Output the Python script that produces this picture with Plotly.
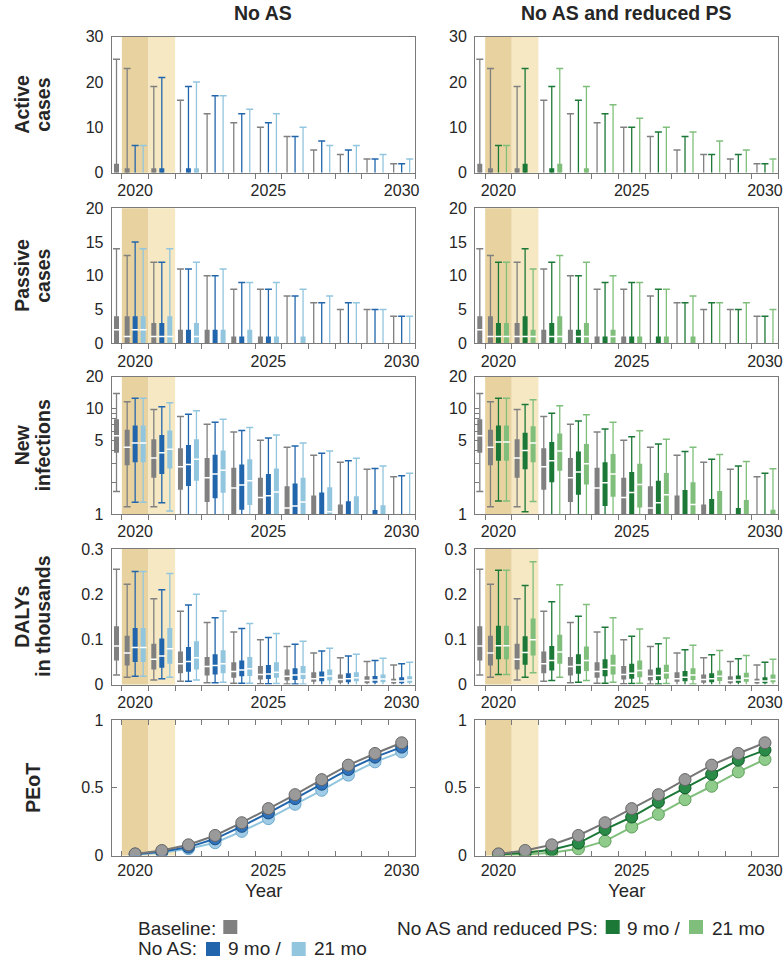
import plotly.graph_objects as go

# ---------------- data ----------------
YEARS = [2020, 2021, 2022, 2023, 2024, 2025, 2026, 2027, 2028, 2029, 2030]
BASE_YEARS = [2019] + YEARS

# Active cases (counts)
ACT_BASE = dict(lo=[0,0,0,0,0,0,0,0,0,0,0,0], q1=[0,0,0,0,0,0,0,0,0,0,0,0],
                med=[0,0,0,0,0,0,0,0,0,0,0,0], q3=[2,1,1,0,0,0,0,0,0,0,0,0],
                hi=[25,23,19,16,13,11,10,8,5,4,3,2])
ACT_NOAS9 = dict(lo=[0,0,0,0,0,0,0,0,0,0,0], q1=[0,0,0,0,0,0,0,0,0,0,0],
                 med=[0,0,0,0,0,0,0,0,0,0,0], q3=[0,1,1,0,0,0,0,0,0,0,0],
                 hi=[6,21,19,17,13,11,8,7,5,3,2])
ACT_NOAS21 = dict(lo=[0,0,0,0,0,0,0,0,0,0,0], q1=[0,0,0,0,0,0,0,0,0,0,0],
                  med=[0,0,0,0,0,0,0,0,0,0,0], q3=[0,0,1,0,0,0,0,0,0,0,0],
                  hi=[6,0,20,17,14,13,10,6,6,4,3])
ACT_RPS9 = dict(lo=[0,0,0,0,0,0,0,0,0,0,0], q1=[0,0,0,0,0,0,0,0,0,0,0],
                med=[0,0,0,0,0,0,0,0,0,0,0], q3=[0,2,1,0,0,0,0,0,0,0,0],
                hi=[6,23,19,16,13,10,9,8,4,4,2])
ACT_RPS21 = dict(lo=[0,0,0,0,0,0,0,0,0,0,0], q1=[0,0,0,0,0,0,0,0,0,0,0],
                 med=[0,0,0,0,0,0,0,0,0,0,0], q3=[0,0,2,1,0,0,0,0,0,0,0],
                 hi=[6,0,23,19,15,12,10,9,7,5,3])

# Passive cases (counts)
PAS_BASE = dict(lo=[0,0,0,0,0,0,0,0,0,0,0,0], q1=[0,0,0,0,0,0,0,0,0,0,0,0],
                med=[2,1,1,0,0,0,0,0,0,0,0,0], q3=[4,4,3,2,2,1,1,0,0,0,0,0],
                hi=[14,13,12,11,10,8,8,7,6,5,5,4])
PAS_NOAS9 = dict(lo=[0,0,0,0,0,0,0,0,0,0,0], q1=[0,0,0,0,0,0,0,0,0,0,0],
                 med=[2,1,0,0,0,0,0,0,0,0,0], q3=[4,3,2,2,1,1,0,0,0,0,0],
                 hi=[15,12,11,10,9,8,7,6,6,5,4])
PAS_NOAS21 = dict(lo=[0,0,0,0,0,0,0,0,0,0,0], q1=[0,0,0,0,0,0,0,0,0,0,0],
                  med=[2,1,1,0,0,0,0,0,0,0,0], q3=[4,4,3,2,2,1,1,0,0,0,0],
                  hi=[14,14,12,11,9,9,8,7,6,5,4])
PAS_RPS9 = dict(lo=[0,0,0,0,0,0,0,0,0,0,0], q1=[0,0,0,0,0,0,0,0,0,0,0],
                med=[1,1,1,1,0,0,0,0,0,0,0], q3=[3,4,3,2,1,1,1,0,0,0,0],
                hi=[12,14,12,10,9,9,8,6,6,5,4])
PAS_RPS21 = dict(lo=[0,0,0,0,0,0,0,0,0,0,0], q1=[0,0,0,0,0,0,0,0,0,0,0],
                 med=[1,1,1,1,1,0,0,0,0,0,0], q3=[3,2,4,3,2,1,1,1,0,0,0],
                 hi=[12,11,13,12,10,9,8,7,6,6,5])

# New infections (log axis; 1 = at or below axis floor)
NEW_BASE = dict(lo=[1.63,1.17,1.17,1,1,1,1,1,1,1,1,1],
                q1=[3.8,2.9,2.2,1.7,1.3,1,1,1,1,1,1,1],
                med=[5.5,4.3,3.4,2.8,2.2,1.76,1.43,1.14,1,1,1,1],
                q3=[7.9,6.3,5.1,4.2,3.4,2.75,2.2,1.83,1.5,1.23,1,1],
                hi=[13.9,11.6,9.8,8.4,7.1,6.0,5.0,4.3,3.6,3.1,2.65,2.26])
NEW_NOAS9 = dict(lo=[1.29,1.28,1,1,1,1,1,1,1,1,1],
                 q1=[3.1,2.4,1.84,1.41,1.1,1,1,1,1,1,1],
                 med=[4.7,3.8,2.95,2.4,1.88,1.49,1.19,1,1,1,1],
                 q3=[6.9,5.6,4.5,3.65,2.95,2.4,1.95,1.6,1.32,1.09,1],
                 hi=[12.5,10.4,8.8,7.4,6.2,5.25,4.4,3.76,3.2,2.7,2.3])
NEW_NOAS21 = dict(lo=[1.29,1.07,1,1,1,1,1,1,1,1,1],
                  q1=[3.1,2.7,2.07,1.59,1.22,1,1,1,1,1,1],
                  med=[4.7,4.1,3.3,2.6,2.07,1.62,1.3,1.05,1,1,1],
                  q3=[6.9,6.2,5.1,4.0,3.3,2.7,2.2,1.79,1.47,1.21,1],
                  hi=[12.5,11.3,9.5,7.9,6.6,5.6,4.7,3.95,3.37,2.85,2.43])
NEW_RPS9 = dict(lo=[1.33,1.05,1,1,1,1,1,1,1,1,1],
                q1=[3.2,2.65,2.0,1.52,1.19,1,1,1,1,1,1],
                med=[4.8,4.0,3.2,2.5,1.98,1.6,1.28,1,1,1,1],
                q3=[6.9,5.9,4.8,3.9,3.1,2.5,2.07,1.69,1.39,1.14,1],
                hi=[12.5,10.9,9.0,7.6,6.4,5.4,4.6,3.9,3.3,2.85,2.43])
NEW_RPS21 = dict(lo=[1.33,1.31,1,1,1,1,1,1,1,1,1],
                 q1=[3.2,3.1,2.57,1.9,1.46,1.15,1,1,1,1,1],
                 med=[4.8,4.7,3.95,3.0,2.4,1.9,1.52,1.23,1,1,1],
                 q3=[6.9,6.8,5.8,4.6,3.7,3.0,2.45,2.0,1.65,1.36,1.1],
                 hi=[12.5,12.1,10.6,8.7,7.4,6.15,5.1,4.3,3.67,3.15,2.69])

# DALYs in thousands
DALY_BASE = dict(lo=[0.021,0.016,0.010,0.007,0.004,0.003,0.0015,0.001,0,0,0,0],
                 q1=[0.053,0.042,0.033,0.025,0.020,0.015,0.011,0.009,0.006,0.004,0.003,0.002],
                 med=[0.085,0.070,0.056,0.046,0.040,0.029,0.022,0.018,0.013,0.011,0.009,0.007],
                 q3=[0.129,0.108,0.090,0.073,0.061,0.049,0.041,0.033,0.027,0.022,0.018,0.013],
                 hi=[0.255,0.222,0.190,0.162,0.137,0.116,0.099,0.084,0.070,0.059,0.051,0.043])
DALY_NOAS9 = dict(lo=[0.018,0.013,0.007,0.004,0.003,0.0015,0.001,0,0,0,0],
                  q1=[0.050,0.037,0.028,0.022,0.018,0.012,0.010,0.007,0.005,0.004,0.003],
                  med=[0.082,0.063,0.051,0.042,0.032,0.023,0.021,0.016,0.013,0.010,0.008],
                  q3=[0.125,0.102,0.083,0.067,0.053,0.043,0.036,0.029,0.025,0.019,0.016],
                  hi=[0.250,0.210,0.176,0.148,0.124,0.104,0.089,0.074,0.063,0.053,0.046])
DALY_NOAS21 = dict(lo=[0.018,0.016,0.010,0.005,0.003,0.002,0.001,0,0,0,0],
                   q1=[0.050,0.046,0.033,0.025,0.019,0.015,0.012,0.009,0.007,0.005,0.004],
                   med=[0.082,0.079,0.059,0.046,0.035,0.027,0.023,0.019,0.015,0.012,0.010],
                   q3=[0.125,0.125,0.096,0.076,0.061,0.049,0.041,0.033,0.027,0.022,0.018],
                   hi=[0.250,0.246,0.200,0.163,0.135,0.113,0.096,0.080,0.067,0.058,0.049])
DALY_RPS9 = dict(lo=[0.022,0.016,0.009,0.005,0.003,0.002,0.001,0,0,0,0],
                 q1=[0.056,0.044,0.031,0.024,0.018,0.013,0.010,0.007,0.005,0.004,0.003],
                 med=[0.086,0.071,0.053,0.043,0.034,0.025,0.020,0.016,0.013,0.010,0.008],
                 q3=[0.130,0.107,0.085,0.067,0.056,0.046,0.037,0.030,0.025,0.020,0.016],
                 hi=[0.253,0.219,0.183,0.151,0.127,0.107,0.090,0.077,0.066,0.057,0.049])
DALY_RPS21 = dict(lo=[0.022,0.026,0.016,0.009,0.005,0.003,0.002,0.001,0,0,0],
                  q1=[0.056,0.064,0.046,0.030,0.022,0.016,0.013,0.010,0.008,0.006,0.005],
                  med=[0.086,0.099,0.072,0.053,0.042,0.031,0.026,0.021,0.018,0.014,0.011],
                  q3=[0.130,0.146,0.110,0.084,0.066,0.053,0.044,0.036,0.031,0.026,0.022],
                  hi=[0.253,0.272,0.221,0.177,0.148,0.123,0.103,0.087,0.075,0.064,0.056])

# PEoT
PEOT_BASE = [0.012,0.037,0.079,0.148,0.242,0.346,0.449,0.560,0.667,0.753,0.832]
PEOT_NOAS9 = [0.010,0.027,0.062,0.123,0.215,0.314,0.420,0.526,0.635,0.726,0.800]
PEOT_NOAS21 = [0.008,0.020,0.050,0.094,0.178,0.272,0.378,0.481,0.593,0.691,0.765]
PEOT_RPS9 = [0.008,0.020,0.042,0.091,0.193,0.284,0.395,0.499,0.600,0.704,0.778]
PEOT_RPS21 = [0.005,0.008,0.020,0.049,0.106,0.210,0.304,0.412,0.511,0.617,0.709]

ROW_LABELS = [["Active", "cases"], ["Passive", "cases"], ["New", "infections"],
              ["DALYs", "in thousands"], ["PEoT"]]
COL_TITLES = ["No AS", "No AS and reduced PS"]

# ---------------- styling ----------------
GRAY = "#808080"
BLUE = "#2166ac"
LBLUE = "#92c5de"
GREEN = "#1b7837"
LGREEN = "#7fbf7b"
SHADE_DARK = "#e8d3a0"
SHADE_LIGHT = "#f6e8c3"
FONT = "Liberation Sans, Arial, DejaVu Sans, sans-serif"
TXT = "#262626"
AXC = "#7a7a7a"
BIG = 19.5
LEGF = 19

W, H = 784, 960
XDOM = [(111.7, 415.0), (475.0, 778.3)]
YDOM = [(36.7, 172.7), (208.3, 343.3), (376.7, 514.0), (549.0, 684.5), (720.0, 855.5)]
XRANGE = [2019.12, 2030.5]

fig = go.Figure()


def ax_names(r, c):
    k = r * 2 + c + 1
    return ("x" if k == 1 else f"x{k}"), ("y" if k == 1 else f"y{k}"), k


def add_boxes(xs, s, color, xa, ya, floor):
    wx, wy, bx, by, cx, cy, mx, my = [], [], [], [], [], [], [], []
    for i, x in enumerate(xs):
        lo, q1, med, q3, hi = s["lo"][i], s["q1"][i], s["med"][i], s["q3"][i], s["hi"][i]
        if hi > floor:
            wx += [x, x, None]
            wy += [max(lo, floor), hi, None]
            cx.append(x); cy.append(hi)
            if lo > floor:
                cx.append(x); cy.append(lo)
        if q3 > max(q1, floor):
            bx += [x, x, None]
            by += [max(q1, floor), q3, None]
            if med > floor:
                mx.append(x); my.append(med)
    common = dict(xaxis=xa, yaxis=ya, showlegend=False, hoverinfo="skip")
    fig.add_trace(go.Scatter(x=wx, y=wy, mode="lines", line=dict(color=color, width=1.3), **common))
    fig.add_trace(go.Scatter(x=cx, y=cy, mode="markers",
                             marker=dict(symbol="line-ew", size=5, line=dict(color=color, width=1.5)),
                             **common))
    fig.add_trace(go.Scatter(x=bx, y=by, mode="lines", line=dict(color=color, width=5), **common))
    fig.add_trace(go.Scatter(x=mx, y=my, mode="markers",
                             marker=dict(symbol="line-ew", size=5, line=dict(color="white", width=1.5)),
                             **common))


base_x = [BASE_YEARS[0] + 0.3] + [y - 0.3 for y in YEARS]
dark_x = list(YEARS)
light_x = [y + 0.3 for y in YEARS]

panels = [
    (ACT_BASE, ACT_NOAS9, ACT_NOAS21, ACT_RPS9, ACT_RPS21, 0),
    (PAS_BASE, PAS_NOAS9, PAS_NOAS21, PAS_RPS9, PAS_RPS21, 0),
    (NEW_BASE, NEW_NOAS9, NEW_NOAS21, NEW_RPS9, NEW_RPS21, 1),
    (DALY_BASE, DALY_NOAS9, DALY_NOAS21, DALY_RPS9, DALY_RPS21, 0),
]

for r, (sb, s9, s21, g9, g21, floor) in enumerate(panels):
    for c in range(2):
        xa, ya, k = ax_names(r, c)
        d9, d21 = (s9, s21) if c == 0 else (g9, g21)
        c9, c21 = (BLUE, LBLUE) if c == 0 else (GREEN, LGREEN)
        add_boxes(base_x, sb, GRAY, xa, ya, floor)
        add_boxes(dark_x, d9, c9, xa, ya, floor)
        add_boxes(light_x, d21, c21, xa, ya, floor)

# PEoT lines (light first, baseline on top)
PEOT_STYLE = {
    LBLUE: ("#9fcbe6", "#6fa9cc"), BLUE: ("#2f72bb", "#174f86"),
    LGREEN: ("#8fcc8b", "#5f9f5b"), GREEN: ("#2a8a47", "#135c29"),
    GRAY: ("#9a9a9a", "#666666"),
}
for c in range(2):
    xa, ya, k = ax_names(4, c)
    series = [(PEOT_NOAS21, LBLUE), (PEOT_NOAS9, BLUE), (PEOT_BASE, GRAY)] if c == 0 else \
             [(PEOT_RPS21, LGREEN), (PEOT_RPS9, GREEN), (PEOT_BASE, GRAY)]
    for vals, col in series:
        fill, edge = PEOT_STYLE[col]
        fig.add_trace(go.Scatter(x=YEARS, y=vals, mode="lines+markers", xaxis=xa, yaxis=ya,
                                 line=dict(color=col if col != GRAY else "#767676", width=2),
                                 marker=dict(size=12, color=fill, line=dict(color=edge, width=1)),
                                 showlegend=False, hoverinfo="skip"))

# ---------------- axes ----------------
layout = {}
shapes = []
annotations = []
tickfont = dict(family=FONT, size=16, color=TXT)


def px_x(v):
    return v / W


def px_y(v):
    return 1 - v / H


for r in range(5):
    for c in range(2):
        xa, ya, k = ax_names(r, c)
        xkey = "xaxis" if k == 1 else f"xaxis{k}"
        ykey = "yaxis" if k == 1 else f"yaxis{k}"
        x0, x1 = XDOM[c]
        y0, y1 = YDOM[r]
        peot = (r == 4)
        layout[xkey] = dict(
            domain=[px_x(x0), px_x(x1)], anchor=ya, range=XRANGE,
            tickmode="array", tickvals=[2020, 2025, 2030], ticktext=["2020", "2025", "2030"],
            ticks="", tickfont=tickfont, showgrid=False, zeroline=False,
            showline=True, linecolor=AXC, linewidth=1,
            mirror="ticks" if peot else True,
            minor=dict(tick0=2019.5, dtick=1, ticks="inside" if peot else "outside",
                       ticklen=5, tickcolor=AXC, tickwidth=1, showgrid=False),
            ticklabelstandoff=0 if peot else 3,
        )
        ydict = dict(domain=[px_y(y1), px_y(y0)], anchor=xa, showgrid=False, zeroline=False,
                     showline=True, linecolor=AXC, linewidth=1, mirror=True,
                     tickfont=tickfont, ticks="", ticklabelstandoff=4)
        if r == 0:
            ydict.update(range=[0, 30], tickvals=[0, 10, 20, 30])
        elif r == 1:
            ydict.update(range=[0, 20], tickvals=[0, 5, 10, 15, 20])
        elif r == 2:
            ydict.update(type="log", range=[0, 1.30103],
                         tickvals=[1, 2, 3, 4, 5, 6, 7, 8, 9, 10, 20],
                         ticktext=["1", "", "", "", "5", "", "", "", "", "10", "20"],
                         ticks="inside", ticklen=4, tickcolor=AXC)
        elif r == 3:
            ydict.update(range=[0, 0.3], tickvals=[0, 0.1, 0.2, 0.3],
                         ticktext=["0", "0.1", "0.2", "0.3"])
        else:
            ydict.update(range=[0, 1], tickvals=[0, 0.5, 1], ticktext=["0", "0.5", "1"],
                         ticks="inside", ticklen=5, tickcolor=AXC, mirror="ticks")
        layout[ykey] = ydict
        shapes.append(dict(type="rect", xref=xa, yref=f"{ya} domain", x0=2019.5, x1=2020.5,
                           y0=0, y1=1, fillcolor=SHADE_DARK, line=dict(width=0), layer="below"))
        shapes.append(dict(type="rect", xref=xa, yref=f"{ya} domain", x0=2020.5, x1=2021.5,
                           y0=0, y1=1, fillcolor=SHADE_LIGHT, line=dict(width=0), layer="below"))
    # row labels (one annotation per line)
    yc = (YDOM[r][0] + YDOM[r][1]) / 2
    lines = ROW_LABELS[r]
    xs_lab = [22, 43] if len(lines) == 2 else [33]
    for lx, line in zip(xs_lab, lines):
        annotations.append(dict(text=f"<b>{line}</b>", x=px_x(lx), y=px_y(yc),
                                xref="paper", yref="paper", xanchor="center", yanchor="middle",
                                textangle=-90, showarrow=False,
                                font=dict(family=FONT, size=BIG, color=TXT)))

for c in range(2):
    xc = (XDOM[c][0] + XDOM[c][1]) / 2
    annotations.append(dict(text=f"<b>{COL_TITLES[c]}</b>", x=px_x(xc), y=px_y(13),
                            xref="paper", yref="paper", xanchor="center", yanchor="middle",
                            showarrow=False, font=dict(family=FONT, size=BIG, color=TXT)))
    annotations.append(dict(text="Year", x=px_x(xc), y=px_y(890),
                            xref="paper", yref="paper", xanchor="center", yanchor="middle",
                            showarrow=False, font=dict(family=FONT, size=18.5, color=TXT)))

# legend: text pieces + colored squares (second row anchored to the bottom edge)
LEG_TEXT = [
    (137.3, 928, "Baseline:"),
    (137.3, None, "No AS:"),
    (226.7, None, "9 mo /"),
    (312.7, None, "21 mo"),
    (396.0, 928, "No AS and reduced PS:"),
    (626.0, 928, "9 mo /"),
    (711.0, 928, "21 mo"),
]
LEG_SQ = [
    (223.3, 927, GRAY), (206.0, 949, BLUE), (291.7, 949, LBLUE),
    (605.7, 927, GREEN), (689.0, 927, LGREEN),
]
for lx, ly, txt in LEG_TEXT:
    if ly is None:
        pos = dict(y=0, yanchor="bottom")
    else:
        pos = dict(y=px_y(ly), yanchor="middle")
    annotations.append(dict(text=txt, x=px_x(lx), xref="paper", yref="paper",
                            xanchor="left", showarrow=False, borderpad=0,
                            font=dict(family=FONT, size=LEGF, color=TXT), **pos))
for sx, sy, col in LEG_SQ:
    shapes.append(dict(type="rect", xref="paper", yref="paper",
                       x0=px_x(sx), x1=px_x(sx + 14), y0=px_y(sy + 7), y1=px_y(sy - 7),
                       fillcolor=col, line=dict(width=0)))

fig.update_layout(**layout)
fig.update_layout(width=W, height=H, margin=dict(l=0, r=0, t=0, b=0, pad=0, autoexpand=False),
                  paper_bgcolor="white", plot_bgcolor="white",
                  shapes=shapes, annotations=annotations, showlegend=False,
                  font=dict(family=FONT, color=TXT))

fig.write_html("out.html",
               config={"displayModeBar": False},
               post_script="document.body.style.margin='0px';document.body.style.padding='0px';"
                           "document.documentElement.style.overflow='hidden';"
                           "document.body.style.overflow='hidden';")
